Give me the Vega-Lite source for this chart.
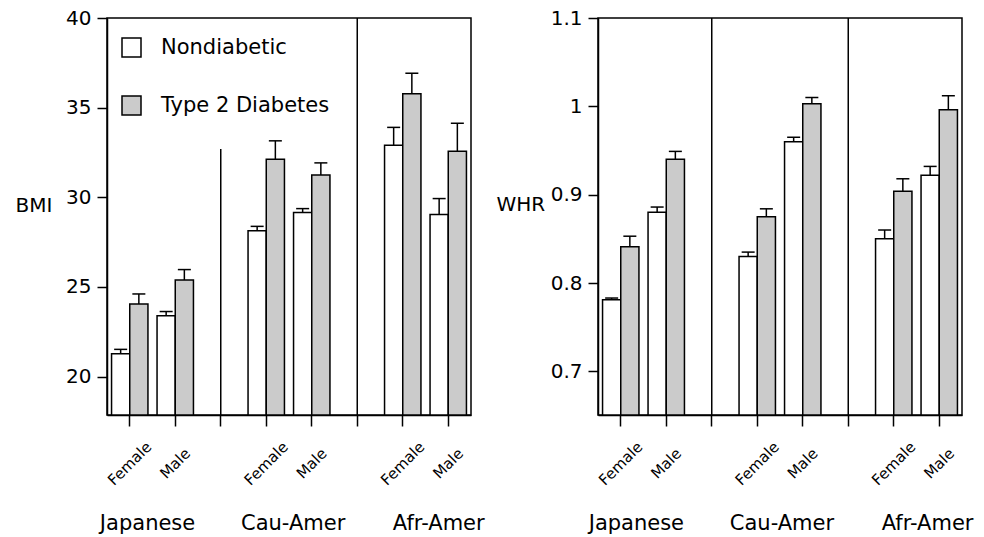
{
  "$schema": "https://vega.github.io/schema/vega-lite/v6.json",
  "padding": {"left": 14, "top": 7, "right": 5, "bottom": 5},
  "background": "white",
  "datasets": {
    "bmi": [
      {"slot": "Japanese Female", "status": "Nondiabetic", "value": 21.27, "upper": 21.52},
      {"slot": "Japanese Female", "status": "Type 2 Diabetes", "value": 24.05, "upper": 24.61},
      {"slot": "Japanese Male", "status": "Nondiabetic", "value": 23.39, "upper": 23.63},
      {"slot": "Japanese Male", "status": "Type 2 Diabetes", "value": 25.39, "upper": 25.97},
      {"slot": "Cau-Amer Female", "status": "Nondiabetic", "value": 28.14, "upper": 28.38},
      {"slot": "Cau-Amer Female", "status": "Type 2 Diabetes", "value": 32.12, "upper": 33.15},
      {"slot": "Cau-Amer Male", "status": "Nondiabetic", "value": 29.15, "upper": 29.37},
      {"slot": "Cau-Amer Male", "status": "Type 2 Diabetes", "value": 31.25, "upper": 31.92},
      {"slot": "Afr-Amer Female", "status": "Nondiabetic", "value": 32.9, "upper": 33.9},
      {"slot": "Afr-Amer Female", "status": "Type 2 Diabetes", "value": 35.77, "upper": 36.92},
      {"slot": "Afr-Amer Male", "status": "Nondiabetic", "value": 29.04, "upper": 29.93},
      {"slot": "Afr-Amer Male", "status": "Type 2 Diabetes", "value": 32.57, "upper": 34.13}
    ],
    "whr": [
      {"slot": "Japanese Female", "status": "Nondiabetic", "value": 0.781, "upper": 0.783},
      {"slot": "Japanese Female", "status": "Type 2 Diabetes", "value": 0.841, "upper": 0.853},
      {"slot": "Japanese Male", "status": "Nondiabetic", "value": 0.880, "upper": 0.886},
      {"slot": "Japanese Male", "status": "Type 2 Diabetes", "value": 0.940, "upper": 0.949},
      {"slot": "Cau-Amer Female", "status": "Nondiabetic", "value": 0.830, "upper": 0.835},
      {"slot": "Cau-Amer Female", "status": "Type 2 Diabetes", "value": 0.875, "upper": 0.884},
      {"slot": "Cau-Amer Male", "status": "Nondiabetic", "value": 0.960, "upper": 0.965},
      {"slot": "Cau-Amer Male", "status": "Type 2 Diabetes", "value": 1.003, "upper": 1.010},
      {"slot": "Afr-Amer Female", "status": "Nondiabetic", "value": 0.850, "upper": 0.860},
      {"slot": "Afr-Amer Female", "status": "Type 2 Diabetes", "value": 0.904, "upper": 0.918},
      {"slot": "Afr-Amer Male", "status": "Nondiabetic", "value": 0.922, "upper": 0.932},
      {"slot": "Afr-Amer Male", "status": "Type 2 Diabetes", "value": 0.996, "upper": 1.012}
    ],
    "bmiDividers": [
      {"slot": "gap1", "top": 32.7},
      {"slot": "gap2", "top": 40}
    ],
    "whrDividers": [
      {"slot": "gap1", "top": 1.1},
      {"slot": "gap2", "top": 1.1}
    ],
    "groups": [
      {"group": "Japanese"},
      {"group": "Cau-Amer"},
      {"group": "Afr-Amer"}
    ]
  },
  "hconcat": [
    {
      "width": 364,
      "height": 397,
      "layer": [
        {
          "encoding": {
            "x": {
              "field": "slot",
              "type": "nominal",
              "scale": {
                "domain": ["Japanese Female", "Japanese Male", "gap1", "Cau-Amer Female", "Cau-Amer Male", "gap2", "Afr-Amer Female", "Afr-Amer Male"],
                "paddingInner": 0,
                "paddingOuter": 0
              },
              "axis": {
                "title": null,
                "tickSize": 11,
                "labelAngle": -45,
                "labelAlign": "center",
                "labelBaseline": "middle",
                "labelPadding": 37,
                "labelFontSize": 15,
                "labelOverlap": false,
                "labelBound": false,
                "labelExpr": "indexof(datum.value,'Female')>=0 ? 'Female' : (indexof(datum.value,'Male')>=0 ? 'Male' : '')"
              }
            }
          },
          "layer": [
            {
              "data": {"name": "bmi"},
              "mark": {"type": "bar", "stroke": "black", "strokeWidth": 1.5},
              "encoding": {
                "xOffset": {"field": "status", "type": "nominal", "scale": {"domain": ["Nondiabetic", "Type 2 Diabetes"], "paddingInner": 0, "paddingOuter": 0.25}},
                "y": {
                  "field": "value",
                  "type": "quantitative",
                  "stack": null,
                  "scale": {"domain": [17.86, 40], "nice": false, "zero": false},
                  "axis": {
                    "title": "BMI",
                    "titleAngle": 0,
                    "titleAlign": "left",
                    "titleBaseline": "middle",
                    "titleX": -92,
                    "titleY": 187,
                    "titleFontSize": 20,
                    "titleFontWeight": "normal",
                    "values": [20, 25, 30, 35, 40],
                    "tickSize": 10,
                    "labelPadding": 6,
                    "labelFontSize": 20
                  }
                },
                "fill": {
                  "field": "status",
                  "type": "nominal",
                  "scale": {"domain": ["Nondiabetic", "Type 2 Diabetes"], "range": ["white", "#cbcbcb"]},
                  "legend": {
                    "orient": "none",
                    "legendX": 14,
                    "legendY": 19,
                    "title": null,
                    "padding": 0,
                    "symbolType": "square",
                    "symbolSize": 361,
                    "symbolStrokeColor": "black",
                    "symbolStrokeWidth": 1.5,
                    "symbolOpacity": 1,
                    "labelFontSize": 21,
                    "labelOffset": 19,
                    "labelLimit": 0,
                    "rowPadding": 33,
                    "labelColor": "black"
                  }
                }
              }
            },
            {
              "data": {"name": "bmi"},
              "mark": {"type": "rule", "color": "black", "strokeWidth": 1.5},
              "encoding": {
                "xOffset": {"field": "status", "type": "nominal"},
                "y": {"field": "value", "type": "quantitative"},
                "y2": {"field": "upper"}
              }
            },
            {
              "data": {"name": "bmi"},
              "mark": {"type": "tick", "color": "black", "size": 13, "thickness": 1.5, "opacity": 1},
              "encoding": {
                "xOffset": {"field": "status", "type": "nominal"},
                "y": {"field": "upper", "type": "quantitative"}
              }
            },
            {
              "data": {"name": "bmiDividers"},
              "mark": {"type": "rule", "color": "black", "strokeWidth": 1.5},
              "encoding": {
                "y": {"field": "top", "type": "quantitative"},
                "y2": {"datum": 17.86}
              }
            }
          ]
        },
        {
          "data": {"name": "groups"},
          "mark": {"type": "text", "text": ""},
          "encoding": {
            "x": {
              "field": "group",
              "type": "nominal",
              "scale": {"type": "point", "domain": ["Japanese", "Cau-Amer", "Afr-Amer"], "padding": 0.25, "align": 0.55},
              "axis": {
                "orient": "bottom",
                "title": null,
                "ticks": false,
                "tickSize": 0,
                "domain": false,
                "labelAngle": 0,
                "labelAlign": "center",
                "labelBaseline": "alphabetic",
                "labelPadding": 114,
                "labelFontSize": 21,
                "labelOverlap": false,
                "labelBound": false
              }
            }
          }
        }
      ],
      "resolve": {"scale": {"x": "independent"}, "axis": {"x": "independent"}}
    },
    {
      "width": 364,
      "height": 397,
      "layer": [
        {
          "encoding": {
            "x": {
              "field": "slot",
              "type": "nominal",
              "scale": {
                "domain": ["Japanese Female", "Japanese Male", "gap1", "Cau-Amer Female", "Cau-Amer Male", "gap2", "Afr-Amer Female", "Afr-Amer Male"],
                "paddingInner": 0,
                "paddingOuter": 0
              },
              "axis": {
                "title": null,
                "tickSize": 11,
                "labelAngle": -45,
                "labelAlign": "center",
                "labelBaseline": "middle",
                "labelPadding": 37,
                "labelFontSize": 15,
                "labelOverlap": false,
                "labelBound": false,
                "labelExpr": "indexof(datum.value,'Female')>=0 ? 'Female' : (indexof(datum.value,'Male')>=0 ? 'Male' : '')"
              }
            }
          },
          "layer": [
            {
              "data": {"name": "whr"},
              "mark": {"type": "bar", "stroke": "black", "strokeWidth": 1.5},
              "encoding": {
                "xOffset": {"field": "status", "type": "nominal", "scale": {"domain": ["Nondiabetic", "Type 2 Diabetes"], "paddingInner": 0, "paddingOuter": 0.25}},
                "y": {
                  "field": "value",
                  "type": "quantitative",
                  "stack": null,
                  "scale": {"domain": [0.6506, 1.1], "nice": false, "zero": false},
                  "axis": {
                    "title": "WHR",
                    "titleAngle": 0,
                    "titleAlign": "left",
                    "titleBaseline": "middle",
                    "titleX": -102,
                    "titleY": 186,
                    "titleFontSize": 20,
                    "titleFontWeight": "normal",
                    "values": [0.7, 0.8, 0.9, 1, 1.1],
                    "format": "~g",
                    "tickSize": 10,
                    "labelPadding": 6,
                    "labelFontSize": 20
                  }
                },
                "fill": {
                  "field": "status",
                  "type": "nominal",
                  "scale": {"domain": ["Nondiabetic", "Type 2 Diabetes"], "range": ["white", "#cbcbcb"]},
                  "legend": null
                }
              }
            },
            {
              "data": {"name": "whr"},
              "mark": {"type": "rule", "color": "black", "strokeWidth": 1.5},
              "encoding": {
                "xOffset": {"field": "status", "type": "nominal"},
                "y": {"field": "value", "type": "quantitative"},
                "y2": {"field": "upper"}
              }
            },
            {
              "data": {"name": "whr"},
              "mark": {"type": "tick", "color": "black", "size": 13, "thickness": 1.5, "opacity": 1},
              "encoding": {
                "xOffset": {"field": "status", "type": "nominal"},
                "y": {"field": "upper", "type": "quantitative"}
              }
            },
            {
              "data": {"name": "whrDividers"},
              "mark": {"type": "rule", "color": "black", "strokeWidth": 1.5},
              "encoding": {
                "y": {"field": "top", "type": "quantitative"},
                "y2": {"datum": 0.6506}
              }
            }
          ]
        },
        {
          "data": {"name": "groups"},
          "mark": {"type": "text", "text": ""},
          "encoding": {
            "x": {
              "field": "group",
              "type": "nominal",
              "scale": {"type": "point", "domain": ["Japanese", "Cau-Amer", "Afr-Amer"], "padding": 0.25, "align": 0.52},
              "axis": {
                "orient": "bottom",
                "title": null,
                "ticks": false,
                "tickSize": 0,
                "domain": false,
                "labelAngle": 0,
                "labelAlign": "center",
                "labelBaseline": "alphabetic",
                "labelPadding": 114,
                "labelFontSize": 21,
                "labelOverlap": false,
                "labelBound": false
              }
            }
          }
        }
      ],
      "resolve": {"scale": {"x": "independent"}, "axis": {"x": "independent"}}
    }
  ],
  "spacing": 127,
  "bounds": "flush",
  "resolve": {"scale": {"fill": "independent"}, "legend": {"fill": "independent"}},
  "config": {
    "font": "DejaVu Sans",
    "view": {"stroke": "black", "strokeWidth": 1.5},
    "axis": {
      "domainColor": "black",
      "domainWidth": 1.5,
      "tickColor": "black",
      "tickWidth": 1.5,
      "labelColor": "black",
      "titleColor": "black",
      "grid": false,
      "labelFont": "DejaVu Sans",
      "titleFont": "DejaVu Sans"
    },
    "legend": {"labelFont": "DejaVu Sans"}
  }
}
